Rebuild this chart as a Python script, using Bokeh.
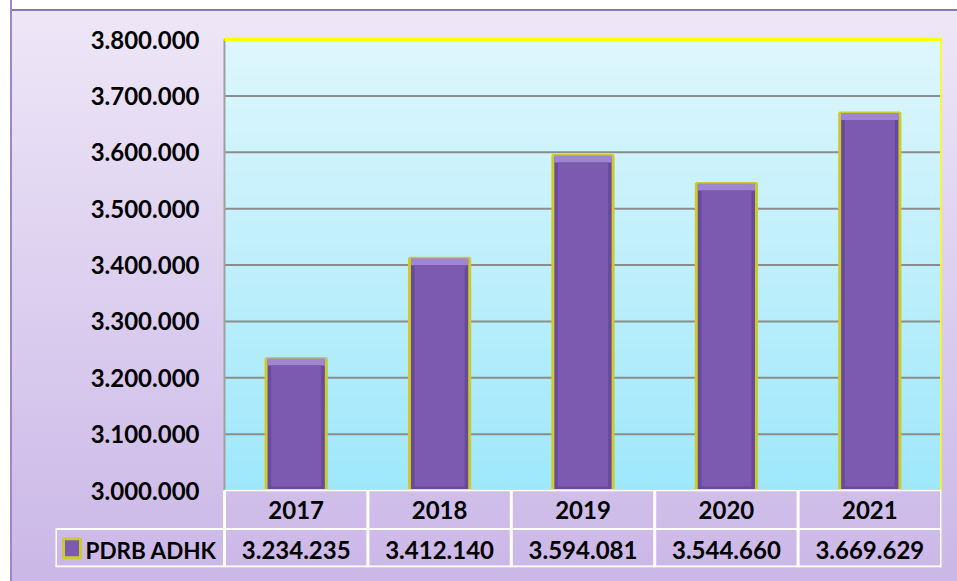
import numpy as np
from bokeh.plotting import figure
from bokeh.layouts import column
from bokeh.models import Range1d, FixedTicker, CustomJSTickFormatter, ColumnDataSource
from bokeh.core.properties import value
from bokeh.embed import file_html
from bokeh.resources import INLINE

# ---- data ----
years = ["2017", "2018", "2019", "2020", "2021"]
pdrb_adhk = [3234235, 3412140, 3594081, 3544660, 3669629]
series_name = "PDRB ADHK"
y_ticks = [3000000, 3100000, 3200000, 3300000, 3400000, 3500000, 3600000, 3700000, 3800000]
y_min, y_max = 3000000, 3800000

# ---- layout constants (pixels) ----
W, H = 957, 581
PLOT_LEFT = 224        # left edge of the bar area
TABLE_LEFT = 55        # left edge of the data table (legend cell)
RIGHT = 16
PLOT_TOP = 39          # top edge of the bar area
TOP = 14               # canvas border above the frame
PLOT_PX = 451          # height of the bar area
ROW_PX = 38.5          # height of one data-table row
TABLE_PX = 2 * ROW_PX
BOTTOM = H - PLOT_TOP - PLOT_PX - int(TABLE_PX)
FONT = value("Lato")
TXT = "24px"

def fmt(v):
    return f"{int(v):,}".replace(",", ".")

n = len(years)
xs = list(range(n))
col_px = (W - PLOT_LEFT - RIGHT) / n
left_cell = (PLOT_LEFT - TABLE_LEFT) / col_px
unit = (y_max - y_min) / PLOT_PX  # data units per pixel
row_h = ROW_PX * unit
y_floor = y_min - TABLE_PX * unit
y_ceil = y_max + (PLOT_TOP - TOP) * unit
x_lo, x_hi = -0.5, n - 0.5
x_left = x_lo - left_cell

p = figure(width=W, height=H, x_range=Range1d(x_left, x_hi),
           y_range=Range1d(y_floor, y_ceil), x_axis_type=None,
           output_backend="svg", toolbar_location=None,
           min_border_left=TABLE_LEFT, min_border_right=RIGHT,
           min_border_top=TOP, min_border_bottom=BOTTOM)
p.border_fill_alpha = 0
p.background_fill_alpha = 0
p.outline_line_color = None
p.grid.visible = False

# gradient background of the bar area
N = 64
top_c = np.array([0xDE, 0xF7, 0xFD], dtype=float)
bot_c = np.array([0x9F, 0xE8, 0xFB], dtype=float)
tt = np.linspace(0, 1, N)[:, None]
rgb = bot_c + (top_c - bot_c) * tt
img = np.empty((N, 1), dtype=np.uint32)
view = img.view(dtype=np.uint8).reshape((N, 1, 4))
view[:, 0, 0:3] = rgb.astype(np.uint8)
view[:, 0, 3] = 255
p.image_rgba(image=[img], x=x_lo, y=y_min, dw=n, dh=y_max - y_min, level="image")

# horizontal gridlines, only over the bar area
p.segment(x0=[x_lo] * len(y_ticks), y0=y_ticks, x1=[x_hi] * len(y_ticks), y1=y_ticks,
          line_color="#8C8C8C", line_width=2)

# bar area borders: gray left, yellow top and right
p.segment(x0=[x_lo], y0=[y_min], x1=[x_lo], y1=[y_max], line_color="#A0A0A0", line_width=2)
p.segment(x0=[x_lo, x_hi], y0=[y_max, y_min], x1=[x_hi, x_hi], y1=[y_max, y_max],
          line_color="#FFFF00", line_width=3)

# bars with a bevel look
src = ColumnDataSource(dict(
    x=xs, top=pdrb_adhk,
    hl_bottom=[v - 7 * unit for v in pdrb_adhk],
    body_bottom=[y_min + 4 * unit for _ in pdrb_adhk],
))
p.vbar(x="x", top="top", bottom=y_min, width=0.42, source=src,
       fill_color="#694A99", line_color="#CBCB2E", line_width=3)
p.vbar(x="x", top="top", bottom="hl_bottom", width=0.40, source=src,
       fill_color="#A086D2", line_color=None)
p.vbar(x="x", top="hl_bottom", bottom="body_bottom", width=0.35, source=src,
       fill_color="#7C5AAF", line_color=None)

# y axis, drawn at the left edge of the bar area
p.yaxis.fixed_location = x_lo
p.yaxis.ticker = FixedTicker(ticks=y_ticks)
p.yaxis.formatter = CustomJSTickFormatter(
    code="return Math.round(tick).toString().replace(/\\B(?=(\\d{3})+(?!\\d))/g, '.');")
p.yaxis.major_label_text_font = "Lato"
p.yaxis.major_label_text_font_style = "bold"
p.yaxis.major_label_text_font_size = TXT
p.yaxis.major_label_text_color = "#000000"
p.yaxis.major_label_standoff = 25
p.yaxis.major_tick_out = 0
p.yaxis.major_tick_in = 0
p.yaxis.major_tick_line_color = None
p.yaxis.minor_tick_line_color = None
p.yaxis.axis_line_color = None

# ---- data table under the bars ----
bounds = [i - 0.5 for i in range(n + 1)]
hx0 = [x_lo, x_left, x_left]
hx1 = [x_hi, x_hi, x_hi]
hy = [y_min, y_min - row_h, y_floor + 1 * unit]
p.segment(x0=hx0, y0=hy, x1=hx1, y1=hy, line_color="#FFFFFF", line_width=2)
p.segment(x0=bounds, y0=[y_floor] * (n + 1), x1=bounds, y1=[y_min] * (n + 1),
          line_color="#FFFFFF", line_width=3)
p.segment(x0=[x_left], y0=[y_floor], x1=[x_left], y1=[y_min - row_h],
          line_color="#FFFFFF", line_width=3)

tsrc = ColumnDataSource(dict(x=xs, year=years, val=[fmt(v) for v in pdrb_adhk],
                             y_year=[y_min - 0.5 * row_h] * n,
                             y_val=[y_min - 1.5 * row_h - 2 * unit] * n))
p.text(x="x", y="y_year", text="year", source=tsrc, text_font=FONT, text_font_style="bold",
       text_font_size=TXT, text_align="center", text_baseline="middle", text_color="#000000")
p.text(x="x", y="y_val", text="val", source=tsrc, text_font=FONT, text_font_style="bold",
       text_font_size=TXT, text_align="center", text_baseline="middle", text_color="#000000")

# legend cell: swatch + series name
p.rect(x=[x_left + 16.5 / col_px], y=[y_min - 1.5 * row_h], width=17, height=19,
       width_units="screen", height_units="screen",
       fill_color="#7C5AAF", line_color="#CBCB2E", line_width=3)
p.text(x=[x_left + 30 / col_px], y=[y_min - 1.5 * row_h - 2 * unit], text=[series_name],
       text_font=FONT, text_font_style="bold", text_font_size="22.5px", text_align="left",
       text_baseline="middle", text_color="#000000")

layout = column(p, styles={
    "background": ("linear-gradient(to right, #FFFFFF 0px, #FFFFFF 10px, #9F86C8 10px, "
                   "#9F86C8 12px, transparent 12px), "
                   "linear-gradient(to bottom, #FFFFFF 0px, #FFFFFF 9px, #8E72B8 9px, "
                   "#8E72B8 11px, #EEE7F7 11px, #DCCFEF 50%, #CBB7E7 100%)"),
})

open("out.html", "w").write(file_html(layout, INLINE))
